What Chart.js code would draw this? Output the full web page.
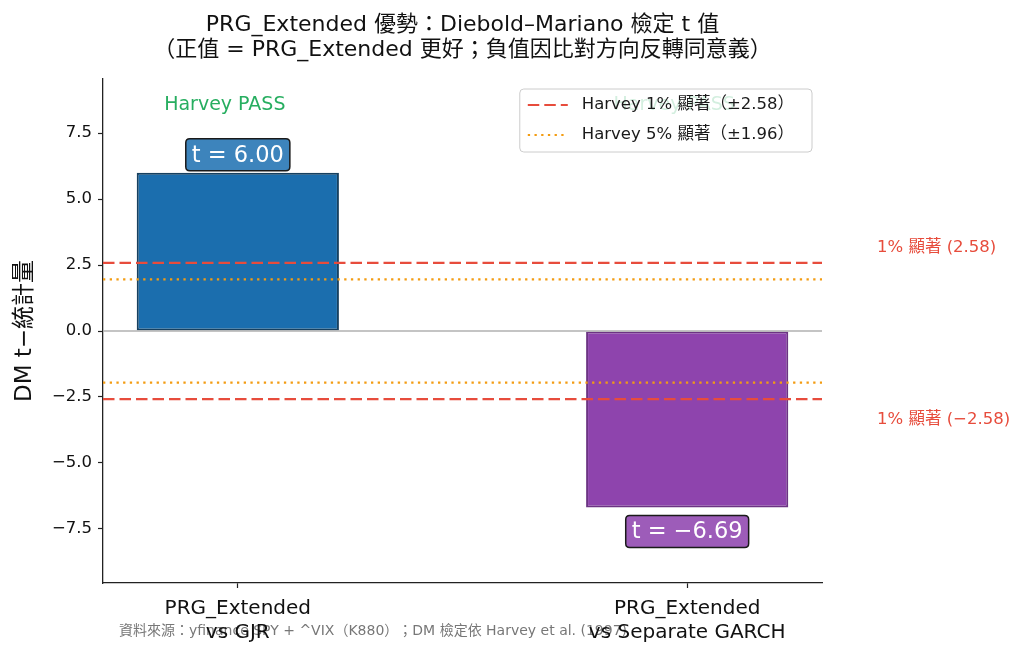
<!DOCTYPE html>
<html><head><meta charset="utf-8">
<script src="https://cdn.jsdelivr.net/npm/chart.js@4.4.1/dist/chart.umd.min.js"></script>
<style>html,body{margin:0;padding:0;background:#fff}#wrap{width:1026px;height:657px}</style>
</head><body><div id="wrap"><canvas id="c" width="1026" height="657"></canvas></div>
<script>
// ---- data ----
const categories = [['PRG_Extended', 'vs GJR'], ['PRG_Extended', 'vs Separate GARCH']];
const categoryPos = [0, 1];
const tValues = [6.00, -6.69];
const valueLabels = ['t = 6.00', 't = −6.69'];
const passLabels = ['Harvey PASS', 'Harvey PASS'];
const yTicks = [-7.5, -5.0, -2.5, 0.0, 2.5, 5.0, 7.5];
const crit1 = 2.58;
const crit5 = 1.96;
const xRange = [-0.3, 1.3];
const yRange = [-9.55, 9.55];
const titleLines = ['PRG_Extended 優勢：Diebold–Mariano 檢定 t 值', '（正值 = PRG_Extended 更好；負值因比對方向反轉同意義）'];
const yTitle = 'DM t−統計量';
const legendLabels = ['Harvey 1% 顯著（±2.58）', 'Harvey 5% 顯著（±1.96）'];
const critLabels = ['1% 顯著 (2.58)', '1% 顯著 (−2.58)'];
const footer = '資料來源：yfinance SPY + ^VIX（K880）；DM 檢定依 Harvey et al. (1997)';

// ---- style ----
const FONT = '"DejaVu Sans", "Noto Sans CJK TC", sans-serif';
const barFill = ['#1b6eae', '#8e44ad'];
const barEdge = ['#17405f', '#6c3483'];
const boxFill = ['#3d84bc', '#9d5cb9'];
const RED = '#e74c3c', ORANGE = '#f39c12', GREEN = '#27ae60';
const DASH1 = [11.5, 5], DASH5 = [2.3, 4.4];

const hline = (v) => [{x: xRange[0], y: v}, {x: xRange[1], y: v}];

function roundRect(ctx, x, y, w, h, r) {
  ctx.beginPath();
  ctx.moveTo(x + r, y);
  ctx.lineTo(x + w - r, y); ctx.quadraticCurveTo(x + w, y, x + w, y + r);
  ctx.lineTo(x + w, y + h - r); ctx.quadraticCurveTo(x + w, y + h, x + w - r, y + h);
  ctx.lineTo(x + r, y + h); ctx.quadraticCurveTo(x, y + h, x, y + h - r);
  ctx.lineTo(x, y + r); ctx.quadraticCurveTo(x, y, x + r, y);
  ctx.closePath();
}

const decor = {
  id: 'decor',
  beforeDraw(chart) {
    const ctx = chart.ctx;
    ctx.save();
    ctx.fillStyle = '#777';
    ctx.font = '14px ' + FONT;
    ctx.textAlign = 'left'; ctx.textBaseline = 'middle';
    ctx.fillText(footer, 119, 631);
    ctx.restore();
  },
  afterDatasetsDraw(chart) {
    const ctx = chart.ctx, ca = chart.chartArea;
    const ys = chart.scales.y;
    const meta = chart.getDatasetMeta(5);
    ctx.save();
    // value boxes
    ctx.font = '22.5px ' + FONT;
    ctx.textAlign = 'center'; ctx.textBaseline = 'middle';
    meta.data.forEach((bar, i) => {
      const v = tValues[i];
      const cy = v >= 0 ? bar.y - 18 : bar.y + 24;
      const tw = ctx.measureText(valueLabels[i]).width;
      const w = tw + 12, h = 32;
      roundRect(ctx, bar.x - w / 2, cy - h / 2, w, h, 4);
      ctx.fillStyle = boxFill[i]; ctx.fill();
      ctx.lineWidth = 1.5; ctx.strokeStyle = '#1a1a1a'; ctx.stroke();
      ctx.fillStyle = '#fff';
      ctx.fillText(valueLabels[i], bar.x, cy + 1);
    });
    // pass labels
    ctx.font = '19px ' + FONT;
    ctx.fillStyle = GREEN;
    meta.data.forEach((bar, i) => {
      ctx.fillText(passLabels[i], bar.x - 13, ys.getPixelForValue(8.56));
    });
    // right-side critical labels
    ctx.font = '16.5px ' + FONT;
    ctx.fillStyle = RED; ctx.textAlign = 'left';
    ctx.fillText(critLabels[0], ca.right + 55, ys.getPixelForValue(crit1) - 15);
    ctx.fillText(critLabels[1], ca.right + 55, ys.getPixelForValue(-crit1) + 21);
    // legend
    ctx.font = '16.5px ' + FONT;
    const tw = Math.max(...legendLabels.map(s => ctx.measureText(s).width));
    const lw = 62 + tw + 18, lh = 63;
    const lx = ca.right - 10 - lw, ly = ca.top + 10;
    roundRect(ctx, lx, ly, lw, lh, 4);
    ctx.fillStyle = 'rgba(255,255,255,0.8)'; ctx.fill();
    ctx.lineWidth = 1; ctx.strokeStyle = '#cccccc'; ctx.stroke();
    const rows = [{c: RED, d: DASH1, w: 2.2}, {c: ORANGE, d: DASH5, w: 2.2}];
    rows.forEach((r, i) => {
      const yy = ly + 16 + i * 30;
      ctx.beginPath(); ctx.setLineDash(r.d); ctx.lineWidth = r.w; ctx.strokeStyle = r.c;
      ctx.moveTo(lx + 8, yy); ctx.lineTo(lx + 48, yy); ctx.stroke();
      ctx.setLineDash([]);
      ctx.fillStyle = '#1a1a1a'; ctx.textAlign = 'left'; ctx.textBaseline = 'middle';
      ctx.fillText(legendLabels[i], lx + 62, yy);
    });
    ctx.restore();
  },
  afterDraw(chart) {
    const ctx = chart.ctx, ca = chart.chartArea;
    ctx.save();
    ctx.fillStyle = '#111';
    ctx.font = '22px ' + FONT;
    ctx.textAlign = 'center'; ctx.textBaseline = 'middle';
    const cx = (ca.left + ca.right) / 2;
    ctx.fillText(titleLines[0], cx, 25);
    ctx.fillText(titleLines[1], cx, 50);
    ctx.translate(25, (ca.top + ca.bottom) / 2);
    ctx.rotate(-Math.PI / 2);
    ctx.font = '23px ' + FONT;
    ctx.fillText(yTitle, 0, 0);
    ctx.restore();
  }
};

const lineDs = (v, color, dash, w) => ({
  type: 'line', data: hline(v), borderColor: color, borderWidth: w, borderDash: dash,
  pointRadius: 0, fill: false, order: 1, tension: 0
});

new Chart(document.getElementById('c'), {
  type: 'bar',
  data: {
    datasets: [
      lineDs(0, '#b0b0b0', [], 1.5),
      lineDs(crit1, RED, DASH1, 2.2),
      lineDs(-crit1, RED, DASH1, 2.2),
      lineDs(crit5, ORANGE, DASH5, 2.2),
      lineDs(-crit5, ORANGE, DASH5, 2.2),
      {
        type: 'bar',
        data: categoryPos.map((x, i) => ({x: x, y: tValues[i]})),
        backgroundColor: barFill, borderColor: barEdge, borderWidth: 2,
        borderSkipped: false, inflateAmount: 0,
        barPercentage: 0.45, categoryPercentage: 1, order: 2
      }
    ]
  },
  options: {
    responsive: false, animation: false, devicePixelRatio: 1,
    layout: {padding: {top: 79, right: 204, left: 0, bottom: 0}},
    plugins: {legend: {display: false}, tooltip: {enabled: false}, title: {display: false}},
    scales: {
      x: {
        type: 'linear', min: xRange[0], max: xRange[1], offset: false,
        afterFit: (s) => { s.height = 74; },
        afterBuildTicks: (s) => { s.ticks = categoryPos.map(v => ({value: v})); },
        grid: {offset: false, drawOnChartArea: false, drawTicks: true, tickLength: 5, tickColor: '#222', tickWidth: 1.2},
        border: {display: true, color: '#222', width: 1.3},
        ticks: {
          color: '#111', padding: 9, maxRotation: 0, autoSkip: false,
          font: {family: FONT, size: 20, lineHeight: 1.2},
          callback: (v) => categories[categoryPos.indexOf(v)]
        }
      },
      y: {
        type: 'linear', min: yRange[0], max: yRange[1],
        afterFit: (s) => { s.width = 103; },
        afterBuildTicks: (s) => { s.ticks = yTicks.map(v => ({value: v})); },
        grid: {drawOnChartArea: false, drawTicks: true, tickLength: 5, tickColor: '#222', tickWidth: 1.2},
        border: {display: true, color: '#222', width: 1.3},
        ticks: {
          color: '#111', padding: 6,
          font: {family: FONT, size: 16.5},
          callback: (v) => (v < 0 ? '−' : '') + Math.abs(v).toFixed(1)
        }
      }
    }
  },
  plugins: [decor]
});
</script>
</body></html>
